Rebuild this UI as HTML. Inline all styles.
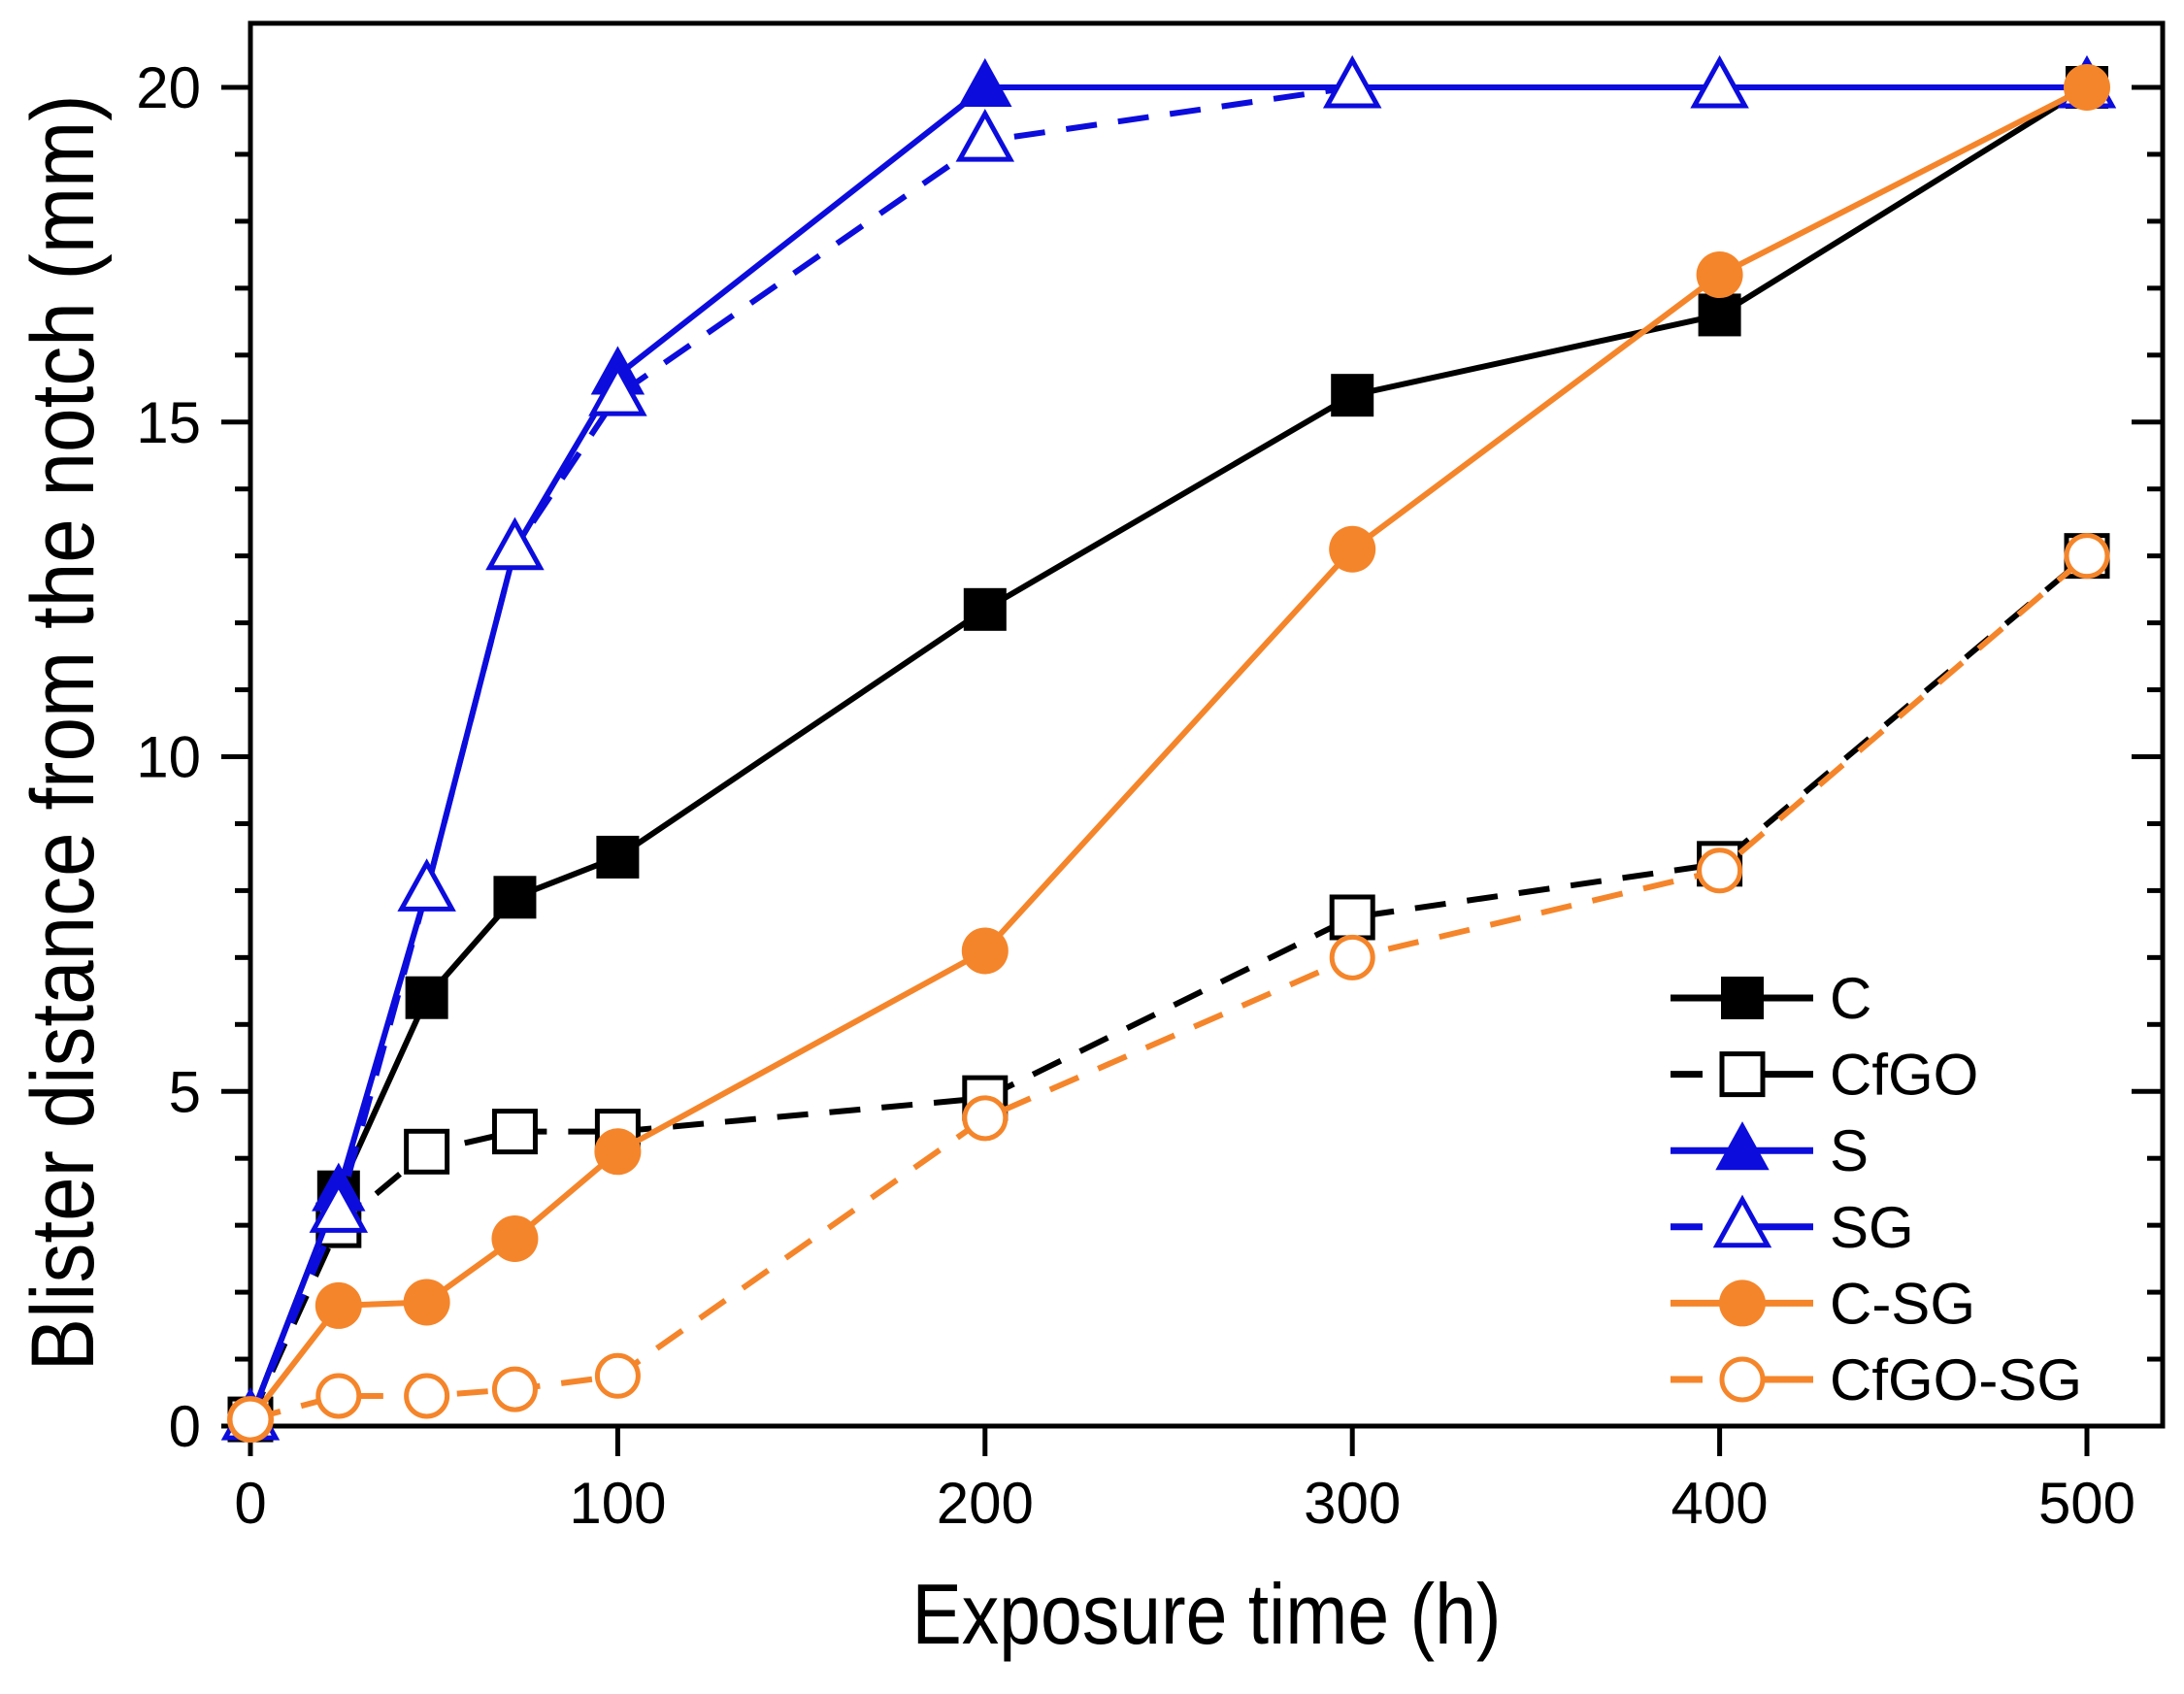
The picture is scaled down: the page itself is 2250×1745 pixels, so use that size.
<!DOCTYPE html>
<html><head><meta charset="utf-8"><style>
html,body{margin:0;padding:0;background:#fff;}
svg{display:block;font-family:"Liberation Sans",Arial,sans-serif;}
</style></head><body>
<svg id="chart" width="2250" height="1745" viewBox="0 0 2250 1745" xmlns="http://www.w3.org/2000/svg">
<rect x="0" y="0" width="2250" height="1745" fill="#fff"/>
<g id="grid"></g>
<g id="series"></g>
<g id="legend"></g>
<text x="1243" y="1693" font-size="88" text-anchor="middle" textLength="607" lengthAdjust="spacingAndGlyphs">Exposure time (h)</text>
<text transform="translate(96,755) rotate(-90)" x="0" y="0" font-size="92" text-anchor="middle" textLength="1315" lengthAdjust="spacingAndGlyphs">Blister distance from the notch (mm)</text>
</svg>
<script>
const xTicks = [0, 100, 200, 300, 400, 500];
const yTicks = [0, 5, 10, 15, 20];
const times = [0, 24, 48, 72, 100, 200, 300, 400, 500];
const seriesNames = ["C", "CfGO", "S", "SG", "C-SG", "CfGO-SG"];
const valsC = [0.1, 3.5, 6.4, 7.9, 8.5, 12.2, 15.4, 16.6, 20];
const valsCfGO = [0.1, 3.0, 4.1, 4.4, 4.4, 4.9, 7.6, 8.4, 13];
const valsS = [0.1, 3.5, 8.0, 13.1, 15.7, 20, 20, 20, 20];
const valsSG = [0.1, 3.2, 8.0, 13.1, 15.4, 19.2, 20, 20, 20];
const valsCSG = [0.1, 1.8, 1.85, 2.8, 4.1, 7.1, 13.1, 17.2, 20];
const valsCfGOSG = [0.1, 0.45, 0.45, 0.55, 0.75, 4.6, 7.0, 8.3, 13];

const NS = "http://www.w3.org/2000/svg";
const X0 = 258, XPU = 3.784, Y0 = 1469, YPU = 68.95;
const xs = v => X0 + v * XPU;
const ys = v => Y0 - v * YPU;
const L = 258, R = 2228, T = 24, B = 1469;

function mk(tag, attrs, parent) {
  const e = document.createElementNS(NS, tag);
  for (const k in attrs) e.setAttribute(k, attrs[k]);
  parent.appendChild(e);
  return e;
}
const grid = document.getElementById('grid');
const series = document.getElementById('series');
const legend = document.getElementById('legend');

const frame = mk('rect', {x: L, y: T, width: R - L, height: B - T, fill: 'none', stroke: '#000', 'stroke-width': 5}, grid);



xTicks.forEach(v => {
  const t = mk('line', {x1: xs(v), x2: xs(v), y1: B, y2: B + 31, stroke: '#000', 'stroke-width': 5}, grid);
  
  
  const lb = mk('text', {x: xs(v), y: 1569, 'font-size': 60, 'text-anchor': 'middle'}, grid);
  lb.textContent = v;
  
  
});
for (let v = 0; v <= 20; v += 1) {
  const major = v % 5 === 0;
  const len = major ? 30 : 16;
  const t = mk('line', {x1: L - len, x2: L, y1: ys(v), y2: ys(v), stroke: '#000', 'stroke-width': 5}, grid);
  
  
  const t2 = mk('line', {x1: R - (major ? 32 : 16), x2: R, y1: ys(v), y2: ys(v), stroke: '#000', 'stroke-width': 5}, grid);
  
  
}
yTicks.forEach(v => {
  const lb = mk('text', {x: 207, y: ys(v) + 21, 'font-size': 60, 'text-anchor': 'end'}, grid);
  lb.textContent = v;
  
  
});

const BLUE = '#0c0cdc', ORANGE = '#f5852a';
const defs = [
  {vals: valsC, color: '#000', dash: null, marker: 'square', fill: true},
  {vals: valsCfGO, color: '#000', dash: '32 22', marker: 'square', fill: false},
  {vals: valsS, color: BLUE, dash: null, marker: 'tri', fill: true},
  {vals: valsSG, color: BLUE, dash: '32 22', marker: 'tri', fill: false},
  {vals: valsCSG, color: ORANGE, dash: null, marker: 'circle', fill: true},
  {vals: valsCfGOSG, color: ORANGE, dash: '32 22', marker: 'circle', fill: false},
];

function marker(type, cx, cy, color, fill, parent) {
  const f = fill ? color : '#fff';
  let e;
  if (type === 'square') e = mk('rect', {x: cx - 21, y: cy - 21, width: 42, height: 42, fill: f, stroke: color, 'stroke-width': fill ? 2 : 5}, parent);
  else if (type === 'circle') e = mk('circle', {cx: cx, cy: cy, r: fill ? 24 : 21, fill: f, stroke: color, 'stroke-width': fill ? 0 : 5}, parent);
  else e = mk('polygon', {points: `${cx},${cy - 28} ${cx - 26},${cy + 19} ${cx + 26},${cy + 19}`, fill: f, stroke: color, 'stroke-width': fill ? 2 : 5}, parent);
  return e;
}

defs.forEach((d, i) => {
  const g = mk('g', {}, series);
  
  
  const pts = times.map((t, j) => xs(t) + ',' + ys(d.vals[j])).join(' ');
  const pl = mk('polyline', {points: pts, fill: 'none', stroke: d.color, 'stroke-width': 6}, g);
  if (d.dash) pl.setAttribute('stroke-dasharray', d.dash);
  
  
  times.forEach((t, j) => {
    const m = marker(d.marker, xs(t), ys(d.vals[j]), d.color, d.fill, g);
    
    
  });
});

defs.forEach((d, i) => {
  const cy = 1028 + i * 78.6;
  const g = mk('g', {}, legend);
  
  
  const ln = mk('line', {x1: 1721, x2: 1868, y1: cy, y2: cy, stroke: d.color, 'stroke-width': 7}, g);
  if (d.dash) ln.setAttribute('stroke-dasharray', '33 44 150');
  marker(d.marker, 1795, cy, d.color, d.fill, g);
  const tx = mk('text', {x: 1885, y: cy + 21, 'font-size': 60}, g);
  tx.textContent = seriesNames[i];
  
  
});
</script>
</body></html>
